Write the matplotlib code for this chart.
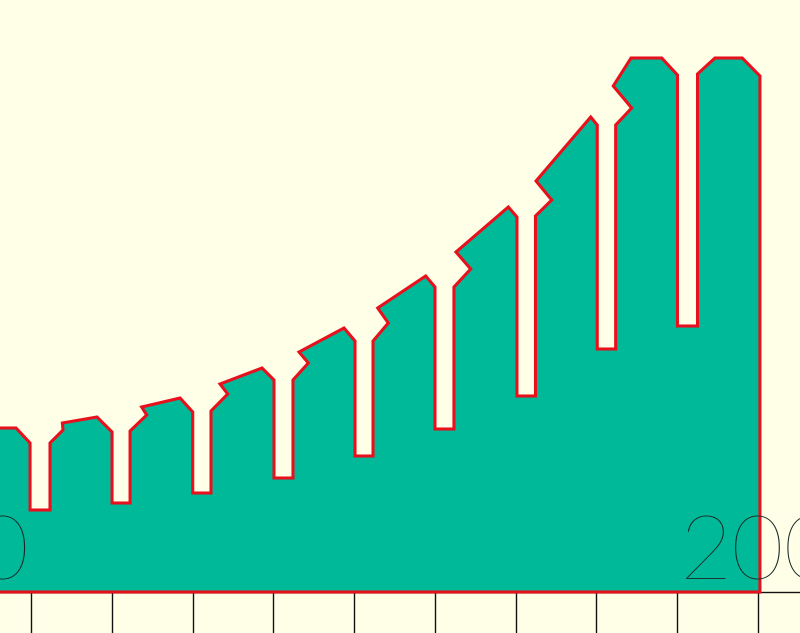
import matplotlib.pyplot as plt

# Outline of the filled curve (x in axis units, y = height above the axis)
curve_x = [105.00, 108.14, 109.88, 109.88, 112.35, 112.35, 113.96, 113.88, 118.17, 120.03, 120.03,
           122.26, 122.26, 124.32, 123.70, 128.45, 130.02, 130.02, 132.28, 132.28, 134.35, 133.40,
           138.60, 140.08, 140.08, 142.43, 142.43, 144.33, 143.18, 148.75, 150.11, 150.11, 152.34,
           152.34, 154.23, 152.92, 158.86, 160.01, 160.01, 162.36, 162.36, 164.43, 162.61, 169.09,
           170.16, 170.16, 172.45, 172.45, 174.46, 172.52, 179.29, 180.10, 180.10, 182.38, 182.38,
           184.36, 182.08, 184.28, 188.08, 190.03, 190.03, 192.51, 192.51, 194.67, 198.05, 200.24,
           200.24, 105.00]
curve_y = [164, 164, 149, 82, 82, 149, 162, 169, 175, 160, 89,
           89, 161, 177, 185, 194, 180, 99, 99, 181, 198, 208,
           224, 212, 114, 114, 212, 229, 240, 264, 251, 136, 136,
           251, 269, 284, 316, 305, 163, 163, 305, 323, 340, 385,
           375, 196, 196, 376, 392, 411, 475, 467, 243, 243, 467,
           484, 506, 534, 534, 517, 266, 266, 518, 534, 534, 516,
           0, 0]

tick_values = [110, 120, 130, 140, 150, 160, 170, 180, 190, 200]
label_values = [100, 200]
label_height = 13

plt.rcParams['font.family'] = ['Lato', 'DejaVu Sans']

fig = plt.figure(figsize=(8, 6.33), dpi=100, facecolor='#ffffe8')
ax = fig.add_axes([0, 41 / 633, 1, 592 / 633], facecolor='#ffffe8')

ax.fill(curve_x, curve_y, facecolor='#00b998', edgecolor='#e8101c', linewidth=2.2,
        joinstyle='miter', clip_on=False, zorder=3)

for value in label_values:
    ax.text(value, label_height, str(value), ha='center', va='baseline', fontsize=65,
            fontweight=100, color='#1a2a2a', zorder=4)

ax.set_xlim(106.16, 205.2)
ax.set_ylim(0, 592)
ax.set_xticks(tick_values)
ax.set_yticks([])
ax.tick_params(axis='x', length=29.5, width=1.0, color='#111111', labelbottom=False)
for side in ['top', 'left', 'right']:
    ax.spines[side].set_visible(False)
ax.spines['bottom'].set_linewidth(1.0)
ax.spines['bottom'].set_color('#111111')

fig.savefig('out.png', dpi=100, facecolor=fig.get_facecolor())
plt.close()
